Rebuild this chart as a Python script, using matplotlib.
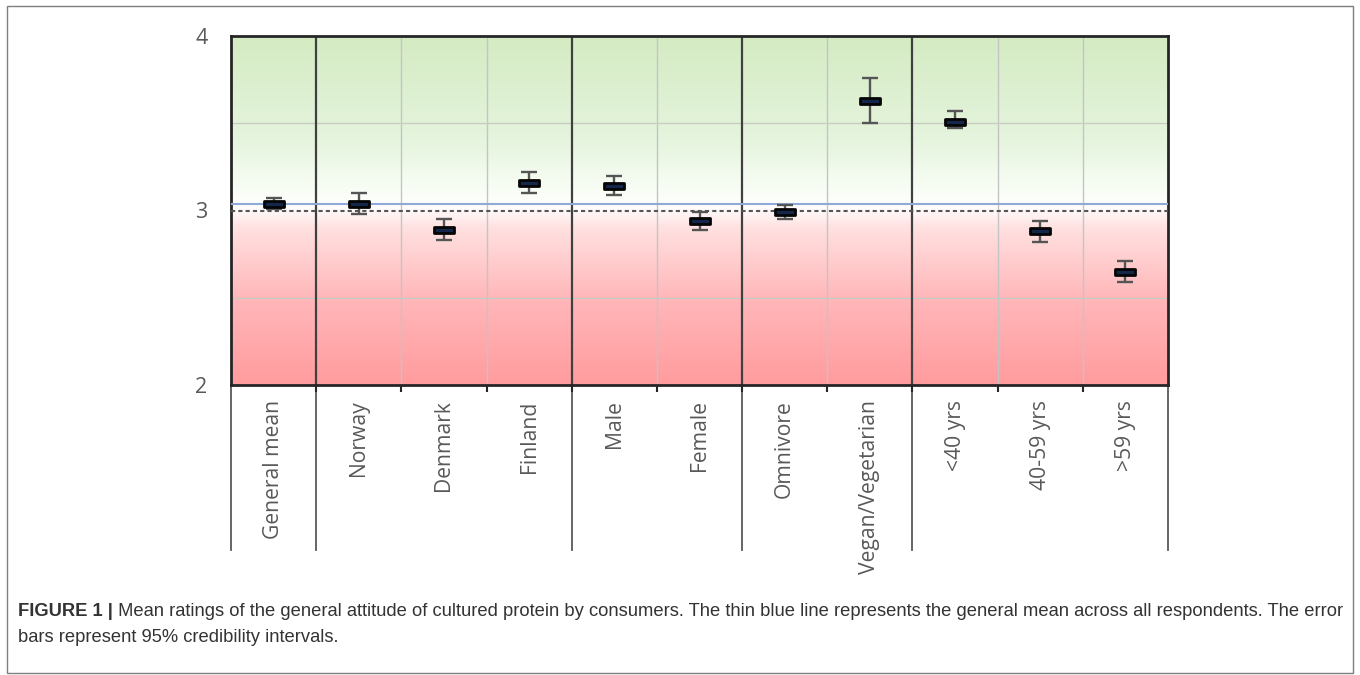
import numpy as np
import matplotlib
matplotlib.use("Agg")
import matplotlib.pyplot as plt
import matplotlib.transforms as mtransforms
from matplotlib.colors import LinearSegmentedColormap
from matplotlib.path import Path
from matplotlib.patches import Rectangle

# ---- data -------------------------------------------------------------
categories = ["General mean", "Norway", "Denmark", "Finland", "Male", "Female",
              "Omnivore", "Vegan/Vegetarian", "<40 yrs", "40-59 yrs", ">59 yrs"]
means = [3.04, 3.04, 2.89, 3.16, 3.14, 2.94, 2.99, 3.63, 3.51, 2.88, 2.65]
lower = [3.01, 2.98, 2.83, 3.10, 3.09, 2.89, 2.95, 3.50, 3.47, 2.82, 2.59]
upper = [3.07, 3.10, 2.95, 3.22, 3.20, 2.99, 3.03, 3.76, 3.57, 2.94, 2.71]
group_sizes = [1, 3, 2, 2, 3]
general_mean = 3.04
neutral_point = 3.0
y_ticks = [2, 3, 4]

caption_bold = "FIGURE 1 |"
caption_line1 = (" Mean ratings of the general attitude of cultured protein by consumers. "
                 "The thin blue line represents the general mean across all respondents. The error")
caption_line2 = "bars represent 95% credibility intervals."

# ---- figure -----------------------------------------------------------
W, H, DPI = 1360, 675, 100
fig = plt.figure(figsize=(W / DPI, H / DPI), dpi=DPI)
fig.patch.set_facecolor("white")

def px_box(x0, y0, x1, y1):
    return [x0 / W, 1 - y1 / H, (x1 - x0) / W, (y1 - y0) / H]

ax = fig.add_axes(px_box(231, 36, 1168, 385))
n = len(categories)
x = np.arange(n)
ax.set_xlim(-0.5, n - 0.5)
ax.set_ylim(min(y_ticks), max(y_ticks))

# background gradient: red below neutral, green above
cmap = LinearSegmentedColormap.from_list(
    "attitude",
    [(0.00, (1.00, 0.61, 0.62)),
     (0.25, (1.00, 0.72, 0.73)),
     (0.45, (1.00, 0.88, 0.88)),
     (0.50, (1.00, 0.98, 0.98)),
     (0.53, (0.99, 1.00, 0.98)),
     (0.70, (0.90, 0.96, 0.87)),
     (1.00, (0.83, 0.92, 0.76))])
grad = np.linspace(0, 1, 512).reshape(-1, 1)
ax.imshow(grad, cmap=cmap, origin="lower", aspect="auto",
          extent=(-0.5, n - 0.5, min(y_ticks), max(y_ticks)), zorder=0,
          interpolation="bilinear")

# grid
bounds = np.cumsum(group_sizes)[:-1] - 0.5
for b in np.arange(0.5, n - 1, 1.0):
    if np.any(np.isclose(b, bounds)):
        ax.axvline(b, color="#404040", lw=1.6, zorder=2)
    else:
        ax.axvline(b, color="#c4c4c4", lw=1.0, zorder=1)
for yv in [2.5, 3.5]:
    ax.axhline(yv, color="#c8cbc4", lw=1.0, zorder=1)

# reference lines
ax.axhline(general_mean, color="#8eaadb", lw=1.5, zorder=3)
ax.axhline(neutral_point, color="#555555", lw=1.5, ls=(0, (2, 1.5)), zorder=3)

# error bars and mean markers
means_a = np.array(means)
yerr = [means_a - np.array(lower), np.array(upper) - means_a]
ax.errorbar(x, means, yerr=yerr, fmt="none", ecolor="#555555",
            elinewidth=1.7, capsize=5.8, capthick=1.7, zorder=4)
bar_marker = Path([(-1, -0.34), (1, -0.34), (1, 0.34), (-1, 0.34), (-1, -0.34)],
                  [Path.MOVETO, Path.LINETO, Path.LINETO, Path.LINETO, Path.CLOSEPOLY])
ax.plot(x, means, linestyle="none", marker=bar_marker, ms=14,
        mfc="#14264a", mec="#050505", mew=2.0, zorder=5)

# spines
for s in ax.spines.values():
    s.set_color("#262626")
    s.set_linewidth(2)

# y axis
ax.set_yticks(y_ticks)
ax.set_yticklabels([str(v) for v in y_ticks])
ax.tick_params(axis="y", length=0, pad=17, labelsize=15.5, labelcolor="#595959")
for t in ax.get_yticklabels():
    t.set_family("Open Sans")

# x axis: category labels + boundary ticks
ax.set_xticks(x)
ax.set_xticklabels(categories, rotation=90, family="Open Sans",
                   fontsize=15.2, color="#595959")
ax.tick_params(axis="x", which="major", length=0, pad=11)
ax.set_xticks(np.arange(0.5, n - 1, 1.0), minor=True)
ax.tick_params(axis="x", which="minor", length=5, width=1.5, color="#262626",
               direction="out")

# long separators below the axis
trans = mtransforms.blended_transform_factory(ax.transData, ax.transAxes)
drop = (550 - 385) / (385 - 36)
for b in np.concatenate([[-0.5], bounds, [n - 0.5]]):
    ax.plot([b, b], [0, -drop], transform=trans, clip_on=False,
            color="#595959", lw=1.3, zorder=1)

# ---- caption ----------------------------------------------------------
fig.add_artist(Rectangle((7 / W, 1 - 673 / H), (1353 - 7) / W, (673 - 6) / H,
                         transform=fig.transFigure, fill=False,
                         edgecolor="#7f7f7f", lw=1.0))

renderer = fig.canvas.get_renderer()
y1 = 1 - 611 / H
y2 = 1 - 638 / H
left_px, right_px = 18, 1346


def draw_caption(size):
    tb = fig.text(left_px / W, y1, caption_bold, fontsize=size, fontweight="bold",
                  family="Liberation Sans", color="#333333", va="center")
    bb = tb.get_window_extent(renderer)
    tr = fig.text(bb.x1 / W, y1, caption_line1, fontsize=size,
                  family="Liberation Sans", color="#333333", va="center")
    return tb, tr


# size the first caption line so it fills the frame width
tb, tr = draw_caption(12.0)
span = tr.get_window_extent(renderer).x1 - left_px
size = 12.0 * (right_px - left_px) / span
tb.remove()
tr.remove()
draw_caption(size)
fig.text(left_px / W, y2, caption_line2, fontsize=size,
         family="Liberation Sans", color="#333333", va="center")

fig.savefig("out.png", dpi=DPI)
